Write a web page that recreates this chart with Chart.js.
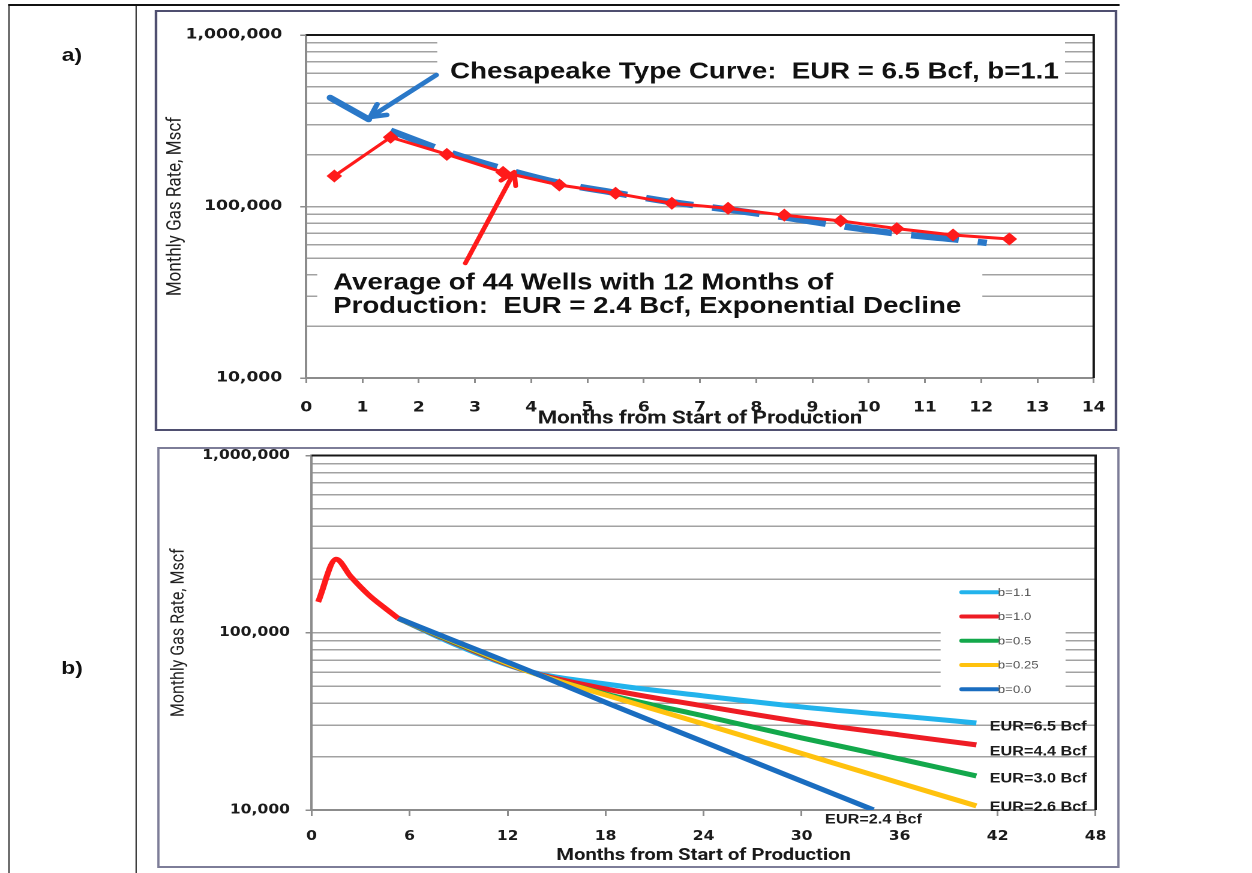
<!DOCTYPE html>
<html lang="en">
<head>
<meta charset="utf-8">
<title>Monthly gas rate: type curve vs. well average</title>
<script src="https://cdn.jsdelivr.net/npm/chart.js@4.4.1/dist/chart.umd.min.js"></script>
<style>
  html, body { margin: 0; padding: 0; background: #fff; }
  body { width: 1252px; height: 873px; overflow: hidden; position: relative; }
  #fig { position: absolute; left: 0; top: 0; height: 873px; transform-origin: 0 0; }
  #fig div, #fig canvas { position: absolute; }
  .rule { background: #111; }
  .panel { box-sizing: border-box; background: #fff; }
  .tag { font: bold 19px "Liberation Sans", Arial, sans-serif; color: #111; transform: translate(-50%, -50%); white-space: nowrap; }
</style>
</head>
<body>
<div id="fig"></div>
<script>
// ---------- panel a: first 12 months ----------
const monthsA = [0.5, 1.5, 2.5, 3.5, 4.5, 5.5, 6.5, 7.5, 8.5, 9.5, 10.5, 11.5, 12.5];
const avgRateA = [150600, 253300, 201500, 158200, 133500, 119400, 104400, 97600, 89000, 82500, 74300, 68200, 64600];
const typeMonthsA = [1.5, 2.5, 3.5, 4.5, 5.5, 6.5, 7.5, 8.5, 9.5, 10.5, 11.5, 12.1];
const typeRateA = [276700, 209000, 166000, 137000, 120000, 106000, 96000, 86500, 77000, 69500, 64500, 61300];
const xTickValuesA = [0, 1, 2, 3, 4, 5, 6, 7, 8, 9, 10, 11, 12, 13, 14];
const noteTypeCurve = 'Chesapeake Type Curve:  EUR = 6.5 Bcf, b=1.1';
const noteAverage = ['Average of 44 Wells with 12 Months of', 'Production:  EUR = 2.4 Bcf, Exponential Decline'];

// ---------- panel b: forecasts by b-factor ----------
const earlyMonthsB = [0.4, 1.5, 2.4, 3.5, 4.5, 5.3];
const earlyRateB = [149200, 259800, 207200, 163300, 137500, 120700];
const fcMonthsB = [5.3, 9, 13.2, 18, 24, 30, 36, 40.7];
const rateB11 = [120700, 84300, 60900, 51400, 44000, 38150, 33940, 30980];
const rateB10 = [120700, 85800, 60900, 48200, 38640, 31400, 26520, 23300];
const rateB05 = [120700, 86600, 60900, 45150, 33940, 25510, 19420, 15570];
const rateB025 = [120700, 87300, 60900, 44570, 30590, 20850, 14210, 10550];
const expMonthsB = [5.3, 9, 13.2, 18, 24, 30, 34.4];
const rateB00 = [120700, 88100, 61640, 40450, 24280, 14550, 10010];
const bLabels = ['b=1.1', 'b=1.0', 'b=0.5', 'b=0.25', 'b=0.0'];
const eurLabels = ['EUR=6.5 Bcf', 'EUR=4.4 Bcf', 'EUR=3.0 Bcf', 'EUR=2.6 Bcf', 'EUR=2.4 Bcf'];
const xTickValuesB = [0, 6, 12, 18, 24, 30, 36, 42, 48];

// ---------- shared axis ----------
const yTickValues = [10000, 20000, 30000, 40000, 50000, 60000, 70000, 80000, 90000,
                     100000, 200000, 300000, 400000, 500000, 600000, 700000, 800000, 900000, 1000000];
const yTitle = 'Monthly Gas Rate, Mscf';
const xTitle = 'Months from Start of Production';

// ---------- layout ----------
const K = 1.2;                 // horizontal stretch applied to the whole figure
const u = x => x / K;          // page x -> figure x
const fig = document.getElementById('fig');
fig.style.width = u(1252) + 'px';
fig.style.transform = 'scaleX(' + K + ')';

function addDiv(cls, x, y, w, h, css) {
  const d = document.createElement('div');
  d.className = cls;
  d.style.left = u(x) + 'px'; d.style.top = y + 'px';
  if (w != null) d.style.width = u(w) + 'px';
  if (h != null) d.style.height = h + 'px';
  Object.assign(d.style, css || {});
  fig.appendChild(d);
  return d;
}

// table rules
addDiv('rule', 8, 4, 1112, 2);
addDiv('rule', 8, 4, 2, 869);
addDiv('rule', 135, 4, 2, 869);
// row tags
addDiv('tag', 72, 55).textContent = 'a)';
addDiv('tag', 72, 668).textContent = 'b)';
// chart frames
addDiv('panel', 155, 10, 962, 421, { border: '2px solid #4f4f70' });
addDiv('panel', 157, 447, 963, 421, { border: '2px solid #7d7d98' });

function addCanvas(x, y, w, h) {
  const c = document.createElement('canvas');
  c.width = Math.round(u(w)); c.height = h;
  c.style.left = u(x) + 'px'; c.style.top = y + 'px';
  fig.appendChild(c);
  return c;
}

const canA = addCanvas(157, 12, 958, 417);
const canB = addCanvas(159, 449, 959, 417);

// ---------- styles ----------
const ink = '#1a1a1a';
const axisGray = '#8c8c8c';
const gridGray = '#a2a2a2';
const avgColor = '#ff1a1a';
const typeColor = '#2a78c8';
const bColors = ['#22b3ec', '#ee1c24', '#13a84b', '#ffc20e', '#1a6dc0'];
const tickFamily = '"DejaVu Sans", Verdana, sans-serif';
const titleFamily = 'Roboto, "Open Sans", sans-serif';

const isDecade = v => Math.abs(Math.log10(v) - Math.round(Math.log10(v))) < 1e-9;
const fmt = v => Number(v).toLocaleString('en-US');
const pts = (xs, ys) => xs.map((x, i) => ({ x, y: ys[i] }));

function dataRect(chart, x0, y0, x1, y1) {
  const sx = chart.scales.x, sy = chart.scales.y;
  const a = sx.getPixelForValue(x0), b = sx.getPixelForValue(x1);
  const c = sy.getPixelForValue(y0), d = sy.getPixelForValue(y1);
  return [Math.min(a, b), Math.min(c, d), Math.abs(b - a), Math.abs(d - c)];
}
function at(chart, x, y) {
  return { x: chart.scales.x.getPixelForValue(x), y: chart.scales.y.getPixelForValue(y) };
}
function drawArrow(ctx, p0, p1, color, width, head) {
  const ang = Math.atan2(p1.y - p0.y, p1.x - p0.x);
  ctx.save();
  ctx.strokeStyle = color; ctx.lineWidth = width; ctx.lineCap = 'round'; ctx.lineJoin = 'round';
  ctx.beginPath(); ctx.moveTo(p0.x, p0.y); ctx.lineTo(p1.x, p1.y);
  for (const s of [-1, 1]) {
    ctx.moveTo(p1.x, p1.y);
    ctx.lineTo(p1.x - head * Math.cos(ang + s * 0.5), p1.y - head * Math.sin(ang + s * 0.5));
  }
  ctx.stroke();
  ctx.restore();
}

// black frame on the top and right of the plot area
const framePlugin = {
  id: 'frame',
  beforeDatasetsDraw(chart) {
    const { ctx, chartArea: { left, right, top, bottom } } = chart;
    ctx.save();
    ctx.strokeStyle = '#161616'; ctx.lineWidth = 2;
    ctx.beginPath(); ctx.moveTo(left, top); ctx.lineTo(right, top); ctx.lineTo(right, bottom); ctx.stroke();
    ctx.restore();
  }
};

function yScale(axisW, tickSize, tickPad, titleSize, titlePad) {
  return {
    type: 'logarithmic', min: 10000, max: 1000000,
    afterBuildTicks(s) { s.ticks = yTickValues.map(v => ({ value: v, major: isDecade(v) })); },
    ticks: {
      autoSkip: false, color: ink, padding: tickPad,
      font: { family: tickFamily, weight: 'bold', size: tickSize },
      callback: v => (isDecade(v) ? fmt(v) : '')
    },
    grid: {
      color: gridGray, lineWidth: 1.5, tickLength: 5,
      tickColor: c => (c.tick && isDecade(c.tick.value) ? axisGray : 'rgba(0,0,0,0)')
    },
    border: { color: axisGray, width: 2 },
    title: { display: true, text: yTitle, color: '#222', padding: { top: titlePad, bottom: 0 },
             font: { family: titleFamily, size: titleSize } },
    afterFit(s) { s.width = axisW; s.paddingTop = 0; s.paddingBottom = 0; }
  };
}
function xScale(maxVal, tickVals, axisH, tickSize, tickPad, tickLen, titleSize, titlePad) {
  return {
    type: 'linear', min: 0, max: maxVal,
    afterBuildTicks(s) { s.ticks = tickVals.map(v => ({ value: v })); },
    ticks: { autoSkip: false, maxRotation: 0, color: ink, padding: tickPad,
             font: { family: tickFamily, weight: 'bold', size: tickSize } },
    grid: { drawOnChartArea: false, tickLength: tickLen, color: axisGray, lineWidth: 1.5 },
    border: { color: axisGray, width: 2 },
    title: { display: true, text: xTitle, color: ink, padding: { top: 0, bottom: titlePad },
             font: { family: titleFamily, weight: 'bold', size: titleSize, lineHeight: 1 } },
    afterFit(s) { s.height = axisH; s.paddingLeft = 0; s.paddingRight = 0; }
  };
}

// ---------- panel a ----------
const notesA = {
  id: 'notesA',
  beforeDatasetsDraw(chart) {
    const ctx = chart.ctx;
    ctx.save(); ctx.fillStyle = '#fff';
    ctx.fillRect(...dataRect(chart, 2.33, 947700, 13.49, 518000));
    ctx.fillRect(...dataRect(chart, 0.196, 47470, 12.02, 21790));
    ctx.restore();
  },
  afterDatasetsDraw(chart) {
    const ctx = chart.ctx;
    const v0 = at(chart, 0.427, 430700), v1 = at(chart, 1.108, 322500);
    ctx.save();
    ctx.strokeStyle = typeColor; ctx.lineWidth = 6; ctx.lineCap = 'round';
    ctx.beginPath(); ctx.moveTo(v0.x, v0.y); ctx.lineTo(v1.x, v1.y); ctx.stroke();
    ctx.restore();
    drawArrow(ctx, at(chart, 2.313, 584500), at(chart, 1.139, 332400), typeColor, 4.5, 14);
    drawArrow(ctx, at(chart, 2.829, 46700), at(chart, 3.70, 158900), avgColor, 4, 14);
    ctx.save();
    ctx.font = 'bold 23px "Liberation Sans", Arial, sans-serif';
    ctx.fillStyle = '#111'; ctx.textBaseline = 'middle'; ctx.textAlign = 'left';
    let p = at(chart, 2.56, 608500); ctx.fillText(noteTypeCurve, p.x, p.y);
    p = at(chart, 0.48, 35650); ctx.fillText(noteAverage[0], p.x, p.y);
    p = at(chart, 0.48, 26050); ctx.fillText(noteAverage[1], p.x, p.y);
    ctx.restore();
  }
};

new Chart(canA, {
  type: 'line',
  data: {
    datasets: [
      { label: 'Average of 44 Wells', data: pts(monthsA, avgRateA), order: 0,
        borderColor: avgColor, backgroundColor: avgColor, borderWidth: 3, tension: 0,
        pointStyle: 'rectRot', pointRadius: 6.5, pointBorderWidth: 0 },
      { label: 'Chesapeake Type Curve', data: pts(typeMonthsA, typeRateA), order: 1,
        borderColor: typeColor, borderWidth: 6.5, borderDash: [40, 16], borderCapStyle: 'butt',
        pointRadius: 0, cubicInterpolationMode: 'monotone' }
    ]
  },
  options: {
    responsive: false, animation: false, devicePixelRatio: 2,
    layout: { padding: { left: 0, top: 35 - 12, right: Math.round(u(958)) - u(1093.5 - 157), bottom: 0 } },
    plugins: { legend: { display: false }, tooltip: { enabled: false } },
    scales: {
      x: xScale(14, xTickValuesA, 417 - (378 - 12), 14.3, 16, 5, 18.5, 1),
      y: yScale(u(306 - 157), 14.3, 15, 17, 4.8)
    }
  },
  plugins: [notesA, framePlugin]
});

// ---------- panel b ----------
const notesB = {
  id: 'notesB',
  beforeDatasetsDraw(chart) {
    const ctx = chart.ctx;
    ctx.save(); ctx.fillStyle = '#fff';
    ctx.fillRect(...dataRect(chart, 38.51, 178900, 46.16, 43450));
    ctx.restore();
  },
  afterDatasetsDraw(chart) {
    const ctx = chart.ctx;
    // legend
    ctx.save();
    ctx.font = '11px "Liberation Sans", Arial, sans-serif';
    ctx.textBaseline = 'middle'; ctx.textAlign = 'left';
    const first = at(chart, 39.8, 169200);
    const x1 = chart.scales.x.getPixelForValue(41.98);
    bLabels.forEach((lab, i) => {
      const y = first.y + i * 24.25;
      ctx.strokeStyle = bColors[i]; ctx.lineWidth = 4; ctx.lineCap = 'round';
      ctx.beginPath(); ctx.moveTo(first.x, y); ctx.lineTo(x1, y); ctx.stroke();
      ctx.fillStyle = '#555';
      ctx.fillText(lab, x1 + 0.5, y + 0.5);
    });
    // EUR labels at the end of each forecast
    ctx.font = 'bold 13.5px "Liberation Sans", Arial, sans-serif';
    ctx.fillStyle = '#1c1c1c';
    const ends = [rateB11, rateB10, rateB05, rateB025];
    const dy = [3.7, 6.7, 3, 1.3];
    ends.forEach((arr, i) => {
      const p = at(chart, fcMonthsB[fcMonthsB.length - 1], arr[arr.length - 1]);
      ctx.fillText(eurLabels[i], p.x + u(13.4), p.y + dy[i]);
    });
    const pe = at(chart, expMonthsB[expMonthsB.length - 1], rateB00[rateB00.length - 1]);
    ctx.textAlign = 'center';
    const w = ctx.measureText(eurLabels[4]).width;
    ctx.fillStyle = '#fff';
    ctx.fillRect(pe.x - w / 2 - 2, pe.y + 3, w + 4, 14);
    ctx.fillStyle = '#1c1c1c';
    ctx.fillText(eurLabels[4], pe.x, pe.y + 10);
    ctx.restore();
  }
};

const lineB = (label, xs, ys, color, order) => ({
  label, data: pts(xs, ys), order, borderColor: color, backgroundColor: color,
  borderWidth: 5, pointRadius: 0, cubicInterpolationMode: 'monotone', borderCapStyle: 'butt'
});

new Chart(canB, {
  type: 'line',
  data: {
    datasets: [
      lineB('Average of 44 Wells', earlyMonthsB, earlyRateB, '#ff1a1a', 0),
      lineB(bLabels[0], fcMonthsB, rateB11, bColors[0], 5),
      lineB(bLabels[1], fcMonthsB, rateB10, bColors[1], 4),
      lineB(bLabels[2], fcMonthsB, rateB05, bColors[2], 3),
      lineB(bLabels[3], fcMonthsB, rateB025, bColors[3], 2),
      lineB(bLabels[4], expMonthsB, rateB00, bColors[4], 1)
    ]
  },
  options: {
    responsive: false, animation: false, devicePixelRatio: 2,
    layout: { padding: { left: 0, top: 455.5 - 449, right: Math.round(u(959)) - u(1095 - 159), bottom: 0 } },
    plugins: { legend: { display: false }, tooltip: { enabled: false } },
    scales: {
      x: xScale(48, xTickValuesB, 417 - (810 - 449), 13, 13, 6, 16.8, 1.6),
      y: yScale(u(311 - 159), 13, 13, 16, 6.2)
    }
  },
  plugins: [notesB, framePlugin]
});
</script>
</body>
</html>
